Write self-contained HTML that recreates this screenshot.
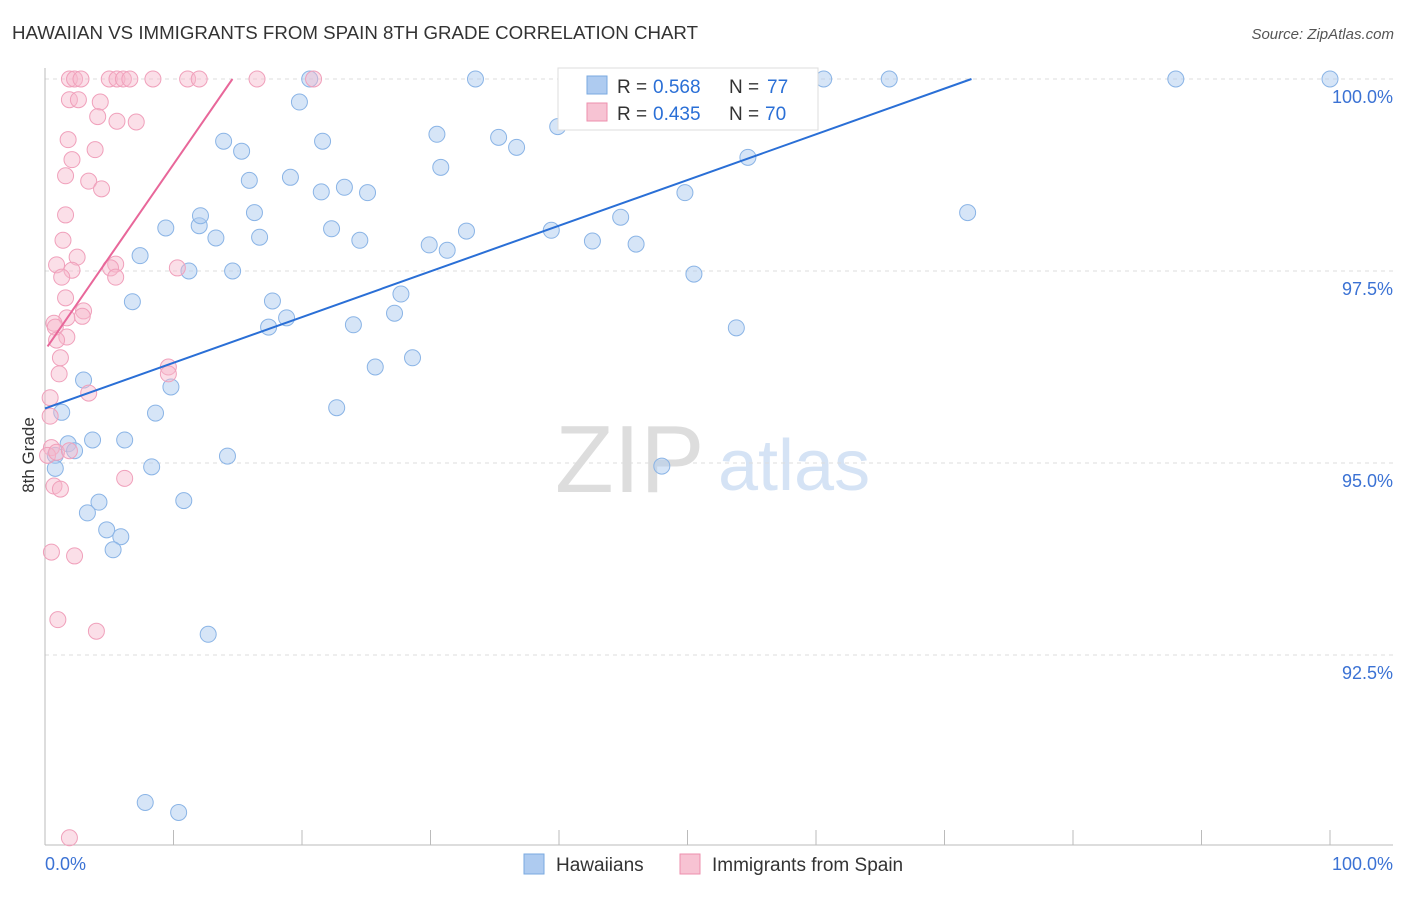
<!DOCTYPE html>
<html><head><meta charset="utf-8"><style>
body{margin:0;background:#fff;font-family:"Liberation Sans",sans-serif;}
svg text{font-family:"Liberation Sans",sans-serif;}
</style></head><body>
<svg id="chart" width="1406" height="892">
<text x="12" y="39" font-size="18" fill="#333" textLength="686" lengthAdjust="spacingAndGlyphs">HAWAIIAN VS IMMIGRANTS FROM SPAIN 8TH GRADE CORRELATION CHART</text>
<text x="1394" y="39" font-size="15" fill="#555" text-anchor="end" font-style="italic">Source: ZipAtlas.com</text>
<text x="555" y="492" font-size="96" fill="#ddd" font-family="Liberation Serif">ZIP</text>
<text x="718" y="490" font-size="72" fill="#d5e3f5">atlas</text>
<g id="grid"></g><g id="marks"></g>
<text x="34" y="455" font-size="17" fill="#333" text-anchor="middle" transform="rotate(-90 34 455)">8th Grade</text>
<g>
<rect x="558" y="68" width="260" height="62" fill="#fff" stroke="#ddd"/>
<rect x="587" y="76" width="20" height="18" fill="#aecbf0" stroke="#7aaae0"/>
<text y="93" font-size="19" fill="#333"><tspan x="617">R = </tspan><tspan x="653" fill="#2a6fd6">0.568</tspan><tspan x="729">N = </tspan><tspan x="767" fill="#2a6fd6">77</tspan></text>
<rect x="587" y="103" width="20" height="18" fill="#f7c3d3" stroke="#ee8fae"/>
<text y="120" font-size="19" fill="#333"><tspan x="617">R = </tspan><tspan x="653" fill="#2a6fd6">0.435</tspan><tspan x="729">N = </tspan><tspan x="765" fill="#2a6fd6">70</tspan></text>
</g>
<g>
<rect x="524" y="854" width="20" height="20" fill="#aecbf0" stroke="#7aaae0"/>
<text x="556" y="871" font-size="19" fill="#333">Hawaiians</text>
<rect x="680" y="854" width="20" height="20" fill="#f7c3d3" stroke="#ee8fae"/>
<text x="712" y="871" font-size="19" fill="#333">Immigrants from Spain</text>
</g>
</svg>
<script>
const blueX=[20.6,33.5,44.5,48.4,60.6,65.7,88.0,100,19.8,39.9,30.5,35.3,36.7,13.9,15.3,21.6,30.8,54.7,15.9,19.1,21.5,23.3,25.1,49.8,71.8,9.4,12.0,12.1,16.3,13.3,16.7,22.3,24.5,32.8,39.4,42.6,44.8,46.0,29.9,31.3,7.4,11.2,14.6,50.5,6.8,17.7,27.7,18.8,17.4,24.0,27.2,53.8,28.6,25.7,3.0,9.8,1.3,8.6,22.7,3.7,6.2,1.8,2.3,0.8,14.2,8.3,0.8,48.0,4.2,10.8,3.3,4.8,5.9,5.3,12.7,7.8,10.4];
const blueY=[100,100,100,100,100,100,100,100,99.70,99.38,99.28,99.24,99.11,99.19,99.06,99.19,98.85,98.98,98.68,98.72,98.53,98.59,98.52,98.52,98.26,98.06,98.09,98.22,98.26,97.93,97.94,98.05,97.90,98.02,98.03,97.89,98.20,97.85,97.84,97.77,97.70,97.50,97.50,97.46,97.10,97.11,97.20,96.89,96.77,96.80,96.95,96.76,96.37,96.25,96.08,95.99,95.66,95.65,95.72,95.30,95.30,95.25,95.16,95.10,95.09,94.95,94.93,94.96,94.49,94.51,94.35,94.13,94.04,93.87,92.77,90.58,90.45];
const pinkX=[1.9,2.3,2.8,5.0,5.6,6.1,6.6,8.4,11.1,12.0,16.5,20.9,1.9,2.6,4.3,4.1,5.6,7.1,1.8,3.9,2.1,1.6,3.4,4.4,1.6,1.4,2.5,0.9,5.5,2.1,5.1,10.3,1.3,5.5,1.6,3.0,2.9,1.7,0.7,0.8,1.7,0.9,1.2,1.1,9.6,9.6,3.4,0.4,0.4,0.5,0.2,0.9,1.9,6.2,0.7,1.2,0.5,2.3,1.0,4.0,1.9];
const pinkY=[100,100,100,100,100,100,100,100,100,100,100,100,99.73,99.73,99.70,99.51,99.45,99.44,99.21,99.08,98.95,98.74,98.67,98.57,98.23,97.90,97.68,97.58,97.59,97.51,97.54,97.54,97.42,97.42,97.15,96.98,96.91,96.89,96.82,96.77,96.64,96.60,96.37,96.16,96.25,96.16,95.91,95.85,95.61,95.20,95.10,95.14,95.16,94.80,94.70,94.66,93.84,93.79,92.96,92.81,90.12];
const yTicks=[100,97.5,95,92.5];
const yTickLabels=["100.0%","97.5%","95.0%","92.5%"];
const blueTrend=[95.71,0.0595];
const pinkTrend=[96.47,0.242];
const NS="http://www.w3.org/2000/svg";
const xs=v=>45+v*12.85;
const ys=v=>79+(100-v)*76.8;
function mk(tag,attrs,parent){const e=document.createElementNS(NS,tag);for(const k in attrs)e.setAttribute(k,attrs[k]);parent.appendChild(e);return e;}
const grid=document.getElementById('grid'),marks=document.getElementById('marks');
yTicks.forEach((t,i)=>{
 const l=mk('line',{x1:45,x2:1393,y1:ys(t),y2:ys(t),stroke:'#ddd','stroke-dasharray':'4,4'},grid);
 
 
 const tx=mk('text',{x:1393,y:ys(t)+24,'font-size':18,fill:'#3b72d4','text-anchor':'end'},grid);
 tx.textContent=yTickLabels[i];
 
 
});
const ax=mk('line',{x1:45,x2:1393,y1:845,y2:845,stroke:'#bbb'},grid);


const ay=mk('line',{x1:45,x2:45,y1:68,y2:845,stroke:'#bbb'},grid);


for(let v=0;v<=100;v+=10){const t=mk('line',{x1:xs(v),x2:xs(v),y1:830,y2:845,stroke:'#bbb'},grid);
 
 }
[[0,"0.0%","start",45],[100,"100.0%","end",1393]].forEach(a=>{const t=mk('text',{x:a[3],y:870,'font-size':18,fill:'#3b72d4','text-anchor':a[2]},grid);t.textContent=a[1];
 
 });
blueX.forEach((x,i)=>{const c=mk('circle',{cx:xs(x),cy:ys(blueY[i]),r:8,fill:'rgba(174,203,240,0.5)',stroke:'#8ab4e6','stroke-width':1},marks);
 
 });
pinkX.forEach((x,i)=>{const c=mk('circle',{cx:xs(x),cy:ys(pinkY[i]),r:8,fill:'rgba(247,184,203,0.45)',stroke:'#f0a0bb','stroke-width':1},marks);
 
 });
const bx2=(100-blueTrend[0])/blueTrend[1];
const bl=mk('line',{x1:xs(0),y1:ys(blueTrend[0]),x2:xs(bx2),y2:ys(100),stroke:'#2a6fd6','stroke-width':2},marks);


const px2=(100-pinkTrend[0])/pinkTrend[1];
const pl=mk('line',{x1:xs(0.2),y1:ys(pinkTrend[0]+0.2*pinkTrend[1]),x2:xs(px2),y2:ys(100),stroke:'#e8679a','stroke-width':2},marks);


</script>
</body></html>
